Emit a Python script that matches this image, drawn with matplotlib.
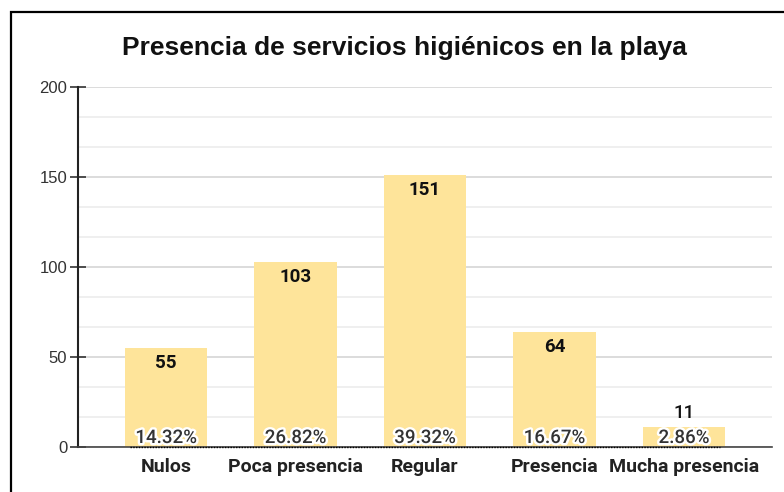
import numpy as np
import matplotlib.pyplot as plt
import matplotlib.patheffects as pe
from matplotlib.patches import Rectangle

categorias = ['Nulos', 'Poca presencia', 'Regular', 'Presencia', 'Mucha presencia']
valores = [55, 103, 151, 64, 11]
porcentajes = ['14.32%', '26.82%', '39.32%', '16.67%', '2.86%']
y_ticks = [0, 50, 100, 150, 200]

W, H = 784, 492
fig = plt.figure(figsize=(W / 100, H / 100), dpi=100)

# black frame (top/left visible, right/bottom cut off)
fig.patches.append(Rectangle((11 / W, -0.1), 1.2, 1 - 12 / H + 0.1, transform=fig.transFigure,
                             fill=False, edgecolor='black', linewidth=1.6))

ax = fig.add_axes([78 / W, (H - 447) / H, (772 - 78) / W, (447 - 87) / H])
x = np.arange(len(categorias))
bars = ax.bar(x, valores, width=0.635, color='#fee49a', zorder=2)

ax.set_xlim(-0.68, len(categorias) - 1 + 0.68)
ax.set_ylim(0, 200)
ax.set_yticks(y_ticks)
ax.set_yticks(np.arange(0, 200, 50 / 3), minor=True)
ax.grid(axis='y', which='major', color='#d6d6d6', linewidth=1.2, zorder=0)
ax.grid(axis='y', which='minor', color='#ececec', linewidth=1.2, zorder=0)
ax.tick_params(axis='y', which='minor', length=0)
ax.tick_params(axis='y', which='major', direction='inout', length=11.5, width=1.2, color='#333333',
               pad=2, labelsize=12, labelcolor='#333333')
ax.tick_params(axis='x', length=0, pad=8)
for s in ['top', 'right']:
    ax.spines[s].set_visible(False)
ax.spines['left'].set_color('#222222')
ax.spines['left'].set_linewidth(1.5)
ax.spines['bottom'].set_color('#444444')
ax.spines['bottom'].set_linewidth(1.2)
for lab in ax.get_yticklabels():
    lab.set_family('Liberation Sans')

ax.set_xticks(x)
ax.set_xticklabels(categorias, fontfamily='Roboto', fontweight='bold', fontsize=14, color='#222222')

# dotted baseline under the bars
ax.plot([x[0] - 0.28, x[-1] + 0.28], [0, 0], color='black', linestyle=(0, (1, 1)),
        linewidth=1, zorder=3, clip_on=False)

for xi, v, p in zip(x, valores, porcentajes):
    if v > 25:
        ax.annotate(str(v), (xi, v), xytext=(0, -15), textcoords='offset pixels',
                    ha='center', va='center', fontfamily='Roboto', fontweight='bold', fontsize=13.5,
                    color='#111111', zorder=4)
    else:
        ax.annotate(str(v), (xi, v), xytext=(0, 14), textcoords='offset pixels',
                    ha='center', va='center', fontfamily='Roboto', fontweight='medium', fontsize=13.5,
                    color='#111111', zorder=4)
    ax.annotate(p, (xi, 0), xytext=(0, 9), textcoords='offset pixels', ha='center', va='center',
                fontfamily='Roboto', fontweight='medium', fontsize=13.5, color='#333333', zorder=5,
                path_effects=[pe.withStroke(linewidth=3.5, foreground='white')])

fig.text(404 / W, 1 - 48 / H, 'Presencia de servicios higiénicos en la playa', ha='center', va='center',
         fontfamily='Liberation Sans', fontweight='bold', fontsize=19, color='#111111')

fig.savefig('out.png', dpi=100)
